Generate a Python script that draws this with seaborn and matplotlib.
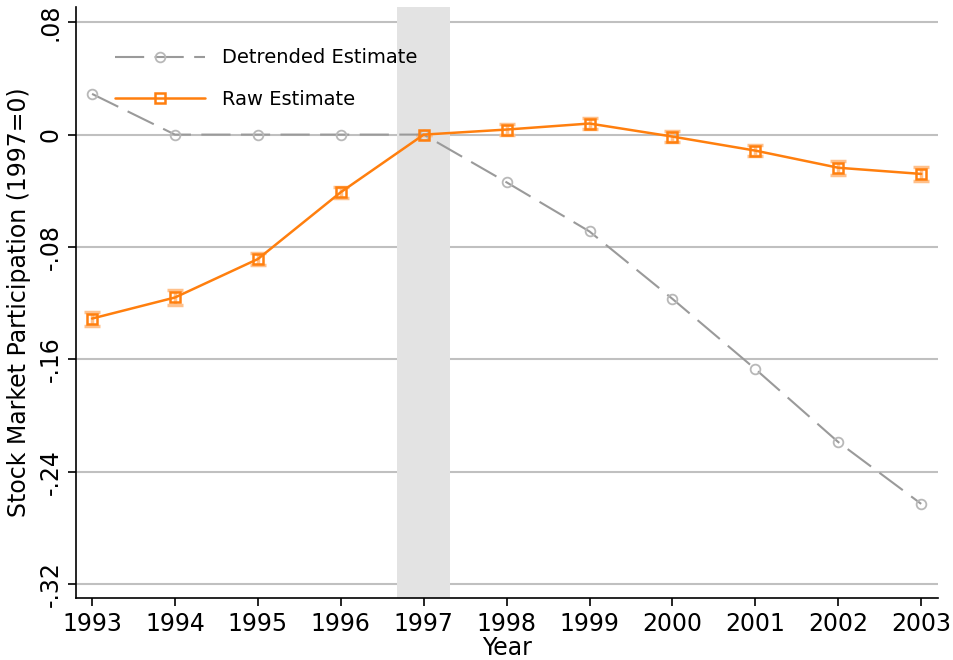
import numpy as np
import pandas as pd
import matplotlib
matplotlib.use("Agg")
import matplotlib.pyplot as plt
import seaborn as sns

years = [1993, 1994, 1995, 1996, 1997, 1998, 1999, 2000, 2001, 2002, 2003]
detrended = [0.029, 0.0, 0.0, 0.0, 0.0, -0.034, -0.069, -0.117, -0.167, -0.219, -0.263]
raw = [-0.131, -0.116, -0.0886, -0.041, 0.0, 0.0036, 0.0079, -0.0014, -0.0114, -0.0236, -0.028]
raw_err = [0.005, 0.005, 0.004, 0.004, 0.0, 0.004, 0.004, 0.004, 0.004, 0.005, 0.005]
yticks = [0.08, 0.0, -0.08, -0.16, -0.24, -0.32]
ytick_labels = [".08", "0", "-.08", "-.16", "-.24", "-.32"]

df = pd.DataFrame({"Year": years, "Detrended": detrended, "Raw": raw, "err": raw_err})

sns.set_style("ticks", rc={"text.color": "black", "axes.labelcolor": "black",
                           "xtick.color": "black", "ytick.color": "black",
                           "axes.edgecolor": "black"})
plt.rcParams["font.family"] = ["DejaVu Sans"]

fig, ax = plt.subplots(figsize=(9.54, 6.6), dpi=100)
fig.subplots_adjust(left=0.08, right=0.983, top=0.989, bottom=0.094)

for y in yticks:
    ax.axhline(y, color="#c0c0c0", lw=1.5, zorder=0)
ax.axvspan(1996.68, 1997.32, color="#e3e3e3", lw=0, zorder=0.5)

ax.errorbar(df["Year"], df["Raw"], yerr=df["err"], fmt="none", ecolor="#ffc08a",
            elinewidth=2.5, capsize=6, capthick=2.5, zorder=2)

sns.lineplot(data=df, x="Year", y="Detrended", ax=ax, color="#9a9a9a", lw=1.5,
             dashes=False, marker="o", markersize=7, markerfacecolor="none",
             markeredgecolor="#b8b8b8", markeredgewidth=1.3,
             label="Detrended Estimate", zorder=3)
ax.lines[-1].set_dashes([14, 5])

sns.lineplot(data=df, x="Year", y="Raw", ax=ax, color="#ff7f0e", lw=1.8,
             marker="s", markersize=6.5, markerfacecolor="none",
             markeredgecolor="#ff7f0e", markeredgewidth=1.8,
             label="Raw Estimate", zorder=4)

ax.set_xlim(1992.81, 2003.2)
ax.set_ylim(-0.33, 0.0907)
ax.set_xticks(years)
ax.set_xticklabels([str(y) for y in years], fontsize=17)
ax.set_yticks(yticks)
ax.set_yticklabels(ytick_labels, fontsize=17, rotation=90, va="center")
ax.tick_params(length=6, width=1.2, pad=4)
ax.set_xlabel("Year", fontsize=17, labelpad=0)
ax.set_ylabel("Stock Market Participation (1997=0)", fontsize=17, labelpad=5)
sns.despine(ax=ax)
for s in ["left", "bottom"]:
    ax.spines[s].set_linewidth(1.2)

leg = ax.legend(loc="upper left", bbox_to_anchor=(0.025, 0.96), frameon=False,
                fontsize=14, handlelength=4.6, labelspacing=1.15, handletextpad=0.9)

fig.savefig("out.png", dpi=100)
